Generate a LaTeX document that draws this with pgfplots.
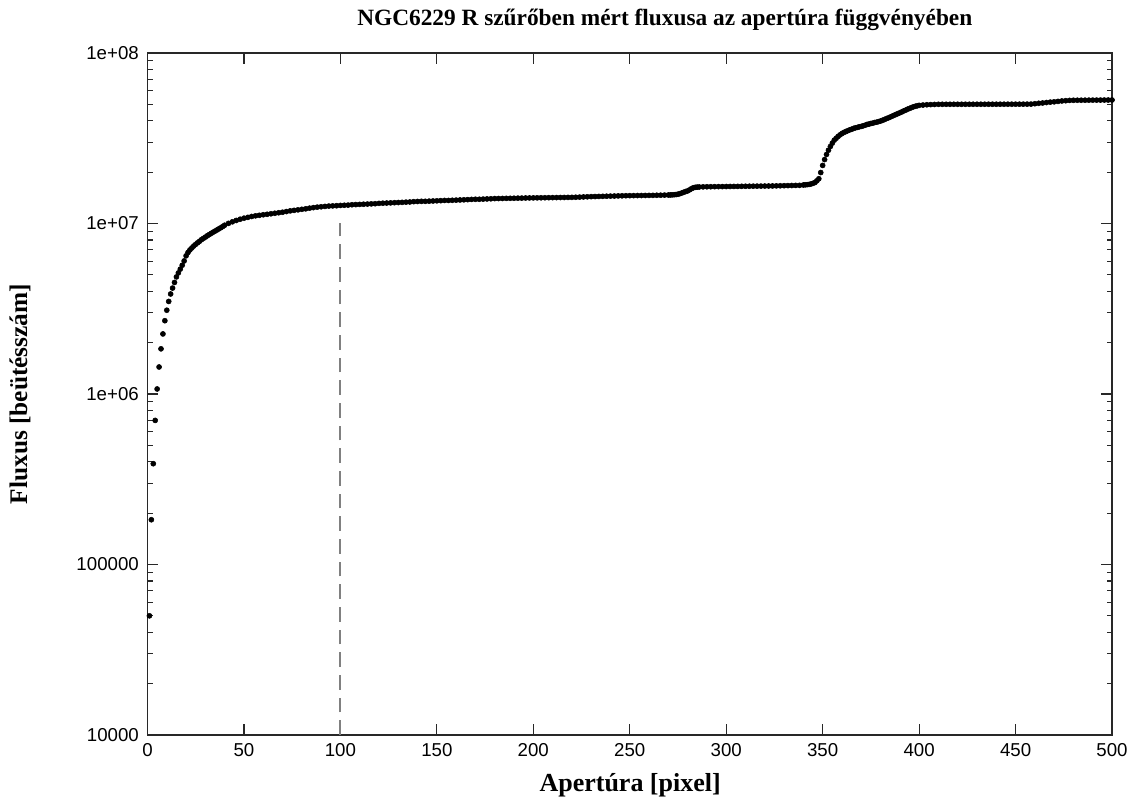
\documentclass[border=0pt]{standalone}
\usepackage{pgfplots}
\usepackage{pgfplotstable}
\pgfplotsset{compat=1.18}
\usepackage{fontspec}
\setmainfont{Liberation Serif}
\newfontfamily\ticksans{Liberation Sans}
\definecolor{dashgray}{RGB}{128,128,128}
\definecolor{axgray}{RGB}{40,40,40}

\pgfplotstableread{
x y
1 5.0e4
2 1.83e5
3 3.9e5
4 7.0e5
5 1.07e6
6 1.44e6
7 1.84e6
8 2.25e6
9 2.69e6
10 3.10e6
11 3.49e6
12 3.86e6
13 4.18e6
14 4.51e6
15 4.86e6
16 5.13e6
17 5.40e6
18 5.69e6
19 6.03e6
20 6.46e6
21 6.76e6
22 7.00e6
23 7.19e6
24 7.38e6
25 7.55e6
26 7.71e6
27 7.87e6
28 8.04e6
29 8.18e6
30 8.32e6
31 8.47e6
32 8.61e6
33 8.75e6
34 8.89e6
35 9.02e6
36 9.16e6
37 9.30e6
38 9.44e6
39 9.60e6
40 9.77e6
42 1.002e7
44 1.023e7
46 1.042e7
48 1.059e7
50 1.074e7
52 1.086e7
54 1.099e7
56 1.109e7
58 1.117e7
60 1.125e7
62 1.132e7
64 1.140e7
66 1.148e7
68 1.156e7
70 1.164e7
72 1.175e7
74 1.186e7
76 1.194e7
78 1.202e7
80 1.211e7
82 1.219e7
84 1.230e7
86 1.239e7
88 1.247e7
90 1.253e7
92 1.259e7
94 1.265e7
96 1.268e7
98 1.271e7
100 1.276e7
102 1.279e7
104 1.282e7
106 1.288e7
108 1.291e7
110 1.294e7
112 1.297e7
114 1.300e7
116 1.303e7
118 1.306e7
120 1.312e7
122 1.315e7
124 1.318e7
126 1.321e7
128 1.324e7
130 1.327e7
132 1.330e7
134 1.334e7
136 1.337e7
138 1.343e7
140 1.346e7
142 1.349e7
144 1.349e7
146 1.352e7
148 1.355e7
150 1.358e7
152 1.361e7
154 1.365e7
156 1.365e7
158 1.368e7
160 1.371e7
162 1.374e7
164 1.377e7
166 1.380e7
168 1.384e7
170 1.387e7
172 1.387e7
174 1.390e7
176 1.393e7
178 1.396e7
180 1.400e7
182 1.401e7
184 1.402e7
186 1.404e7
188 1.405e7
190 1.406e7
192 1.408e7
194 1.409e7
196 1.411e7
198 1.412e7
200 1.413e7
202 1.414e7
204 1.415e7
206 1.416e7
208 1.417e7
210 1.418e7
212 1.419e7
214 1.420e7
216 1.421e7
218 1.422e7
220 1.423e7
222 1.425e7
224 1.428e7
226 1.431e7
228 1.434e7
230 1.437e7
232 1.439e7
234 1.441e7
236 1.443e7
238 1.445e7
240 1.447e7
242 1.449e7
244 1.451e7
246 1.453e7
248 1.455e7
250 1.456e7
252 1.457e7
254 1.458e7
256 1.459e7
258 1.460e7
260 1.461e7
262 1.462e7
264 1.464e7
266 1.465e7
268 1.467e7
270 1.469e7
271 1.470e7
272 1.472e7
273 1.475e7
274 1.479e7
275 1.485e7
276 1.496e7
277 1.510e7
278 1.525e7
279 1.540e7
280 1.553e7
281 1.575e7
282 1.600e7
283 1.620e7
284 1.630e7
285 1.635e7
286 1.637e7
288 1.640e7
290 1.642e7
292 1.643e7
294 1.644e7
296 1.645e7
298 1.646e7
300 1.647e7
302 1.648e7
304 1.649e7
306 1.650e7
308 1.652e7
310 1.653e7
312 1.654e7
314 1.655e7
316 1.656e7
318 1.657e7
320 1.658e7
322 1.659e7
324 1.660e7
326 1.662e7
328 1.664e7
330 1.666e7
332 1.668e7
334 1.670e7
336 1.672e7
338 1.674e7
340 1.682e7
341 1.686e7
342 1.690e7
343 1.695e7
344 1.706e7
345 1.720e7
346 1.740e7
347 1.780e7
348 1.830e7
349 1.990e7
350 2.190e7
351 2.370e7
352 2.540e7
353 2.690e7
354 2.830e7
355 2.960e7
356 3.080e7
357 3.160e7
358 3.240e7
359 3.310e7
360 3.370e7
361 3.420e7
362 3.460e7
363 3.500e7
364 3.540e7
365 3.570e7
366 3.610e7
367 3.640e7
368 3.660e7
369 3.690e7
370 3.710e7
371 3.740e7
372 3.770e7
373 3.810e7
374 3.830e7
375 3.860e7
376 3.880e7
377 3.910e7
378 3.930e7
379 3.960e7
380 3.990e7
381 4.030e7
382 4.070e7
383 4.120e7
384 4.160e7
385 4.210e7
386 4.260e7
387 4.310e7
388 4.360e7
389 4.410e7
390 4.460e7
391 4.510e7
392 4.570e7
393 4.620e7
394 4.680e7
395 4.730e7
396 4.780e7
397 4.830e7
398 4.870e7
399 4.900e7
400 4.930e7
402 4.950e7
404 4.970e7
406 4.980e7
408 4.990e7
410 5.000e7
412 5.000e7
414 5.001e7
416 5.001e7
418 5.002e7
420 5.002e7
422 5.002e7
424 5.003e7
426 5.003e7
428 5.003e7
430 5.004e7
432 5.004e7
434 5.004e7
436 5.005e7
438 5.005e7
440 5.005e7
442 5.006e7
444 5.006e7
446 5.007e7
448 5.007e7
450 5.008e7
452 5.009e7
454 5.010e7
456 5.012e7
458 5.015e7
460 5.040e7
462 5.070e7
464 5.090e7
466 5.120e7
468 5.150e7
470 5.170e7
472 5.200e7
474 5.230e7
476 5.250e7
478 5.270e7
480 5.280e7
482 5.282e7
484 5.284e7
486 5.286e7
488 5.288e7
490 5.290e7
492 5.292e7
494 5.294e7
496 5.296e7
498 5.298e7
500 5.300e7
}\fluxdata

\begin{document}
\begin{tikzpicture}
\useasboundingbox (-110.625pt,-48.75pt) rectangle (741.375pt,551.25pt);
\begin{semilogyaxis}[
  scale only axis,
  width=723.4pt, height=511.5pt,
  xmin=0, xmax=500,
  ymin=1e4, ymax=1e8,
  xtick={0,50,...,500},
  ytick={1e4,1e5,1e6,1e7,1e8},
  yticklabels={10000,100000,1e+06,1e+07,1e+08},
  xtick pos=both, ytick pos=both,
  tick align=inside,
  major tick length=8pt,
  minor tick length=4pt,
  axis line style={axgray, line width=0.9pt},
  every tick/.style={axgray, line width=0.9pt},
  tick label style={font=\ticksans\fontsize{14}{16}\selectfont, black},
  /pgf/number format/assume math mode=true,
  xticklabel style={yshift=-3pt},
  yticklabel style={xshift=-3pt},
  clip=false,
]
\addplot[dashgray, line width=1.4pt, dash pattern=on 11pt off 6pt] coordinates {(100,1e4) (100,1e7)};
\addplot[only marks, mark=*, mark size=1.9pt, black] table[x=x, y=y] {\fluxdata};
\end{semilogyaxis}
\node[font=\bfseries\fontsize{17.5}{20}\selectfont] at (388pt,536pt) {NGC6229 R szűrőben mért fluxusa az apertúra függvényében};
\node[font=\bfseries\fontsize{19.5}{22}\selectfont] at (362pt,-37.5pt) {Apertúra [pixel]};
\node[font=\bfseries\fontsize{19}{22}\selectfont, rotate=90] at (-95.6pt,255.75pt) {Fluxus [beütésszám]};
\end{tikzpicture}
\end{document}
